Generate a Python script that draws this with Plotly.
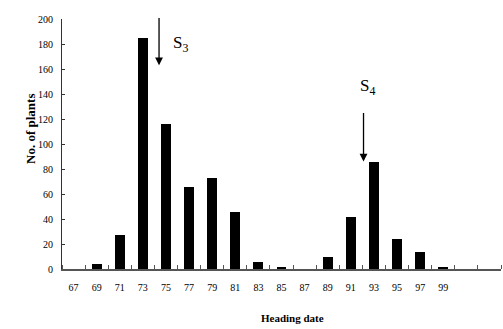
import plotly.graph_objects as go

heading_date = [67, 69, 71, 73, 75, 77, 79, 81, 83, 85, 87, 89, 91, 93, 95, 97, 99]
no_of_plants = [0, 4, 27, 185, 116, 66, 73, 46, 6, 1, 0, 10, 42, 86, 24, 14, 1]
tick_labels = [str(v) for v in heading_date]
y_ticks = list(range(0, 201, 20))

# arrow markers (x position, tip value, tail value, label)
marker_x = [74.4, 92.1]
marker_tip = [163, 86]
marker_tail = [202, 126]
marker_label = ["S<sub>3</sub>", "S<sub>4</sub>"]
label_x = [75.4, 91.6]
label_y = [180, 146]

SERIF = "Liberation Serif, Times New Roman, serif"

fig = go.Figure()
fig.add_trace(go.Bar(x=heading_date, y=no_of_plants, width=0.86,
                     marker=dict(color="black", line=dict(width=0))))

for xm, tip, tail in zip(marker_x, marker_tip, marker_tail):
    fig.add_annotation(x=xm, y=tip, ax=xm, ay=tail, axref="x", ayref="y",
                       xref="x", yref="y", text="", showarrow=True,
                       arrowhead=2, arrowsize=1.2, arrowwidth=1.3, arrowcolor="black")
for lx, ly, lt in zip(label_x, label_y, marker_label):
    fig.add_annotation(x=lx, y=ly, xref="x", yref="y", text=lt, showarrow=False,
                       xanchor="left", font=dict(family=SERIF, size=17, color="black"))

fig.add_annotation(x=0.524, y=-0.165, xref="paper", yref="paper", yanchor="top",
                   xanchor="center",
                   text="<b>Heading date</b>", showarrow=False,
                   font=dict(family=SERIF, size=11, color="black"))
fig.add_annotation(x=-0.073, y=0.56, xref="paper", yref="paper", textangle=-90,
                   xanchor="center", yanchor="middle",
                   text="<b>No. of plants</b>", showarrow=False,
                   font=dict(family=SERIF, size=13, color="black"))

fig.update_layout(
    width=503, height=329,
    margin=dict(l=62, r=2, t=19, b=60),
    paper_bgcolor="white", plot_bgcolor="white",
    showlegend=False, bargap=0,
    font=dict(family=SERIF, size=10, color="black"),
    xaxis=dict(range=[66, 104], tickmode="array", tickvals=heading_date,
               ticktext=tick_labels, ticks="", showgrid=False, zeroline=False,
               showline=True, linecolor="#555555", linewidth=1.5,
               ticklabelstandoff=8,
               minor=dict(tickmode="linear", tick0=68, dtick=2, ticks="inside",
                          ticklen=4, tickcolor="#555555", showgrid=False)),
    yaxis=dict(range=[0, 200], tickvals=y_ticks, ticks="inside", ticklen=3,
               tickcolor="#333333", showgrid=False, zeroline=False,
               showline=True, linecolor="#333333", linewidth=1,
               ticklabelstandoff=6),
)

fig.write_html("out.html")
